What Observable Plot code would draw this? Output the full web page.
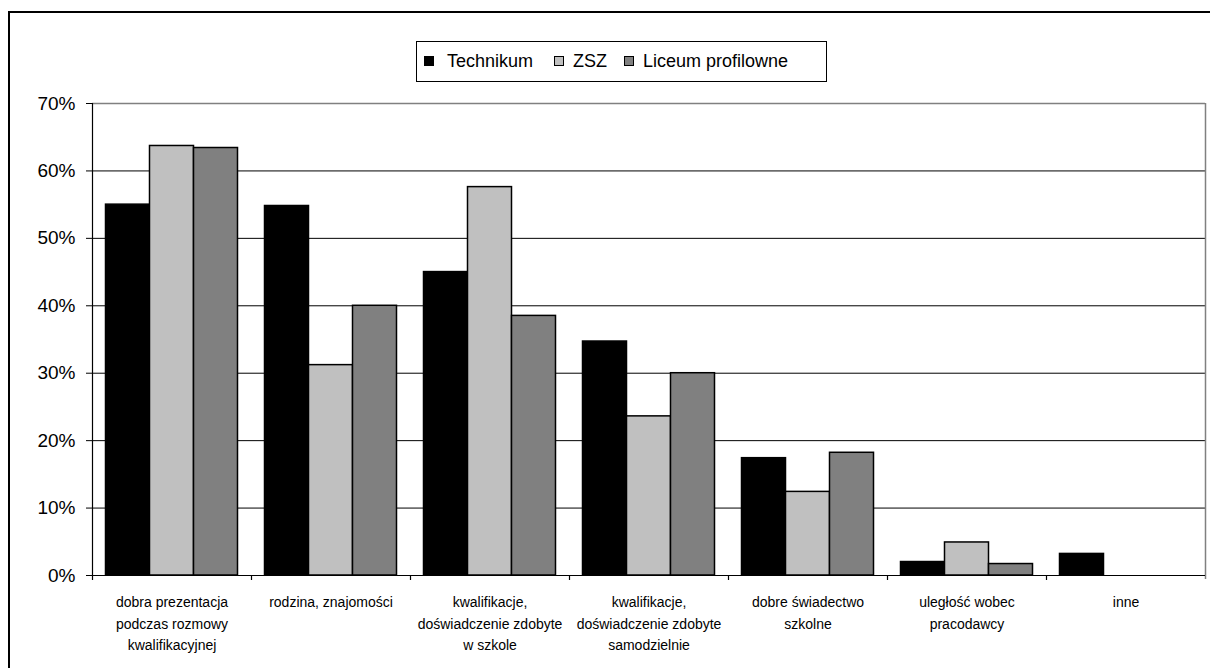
<!DOCTYPE html>
<html>
<head>
<meta charset="utf-8">
<script src="https://cdn.jsdelivr.net/npm/d3@7"></script>
<script src="https://cdn.jsdelivr.net/npm/@observablehq/plot@0.6"></script>
<style>
  body { margin: 0; background: #fff; font-family: "Liberation Sans", Arial, sans-serif; }
  #wrap { position: relative; width: 1210px; height: 668px; overflow: hidden; background: #fff; }
  #chart { position: absolute; left: 0; top: 0; }
  #border { position: absolute; left: 8px; top: 11px; width: 1230px; height: 720px; border: 2px solid #000; box-sizing: border-box; pointer-events: none; }
  #legend { position: absolute; left: 416px; top: 41px; width: 411px; height: 41px; border: 1px solid #000; box-sizing: border-box; font-size: 18px; color: #000; background: #fff; }
  .sw { position: absolute; top: 14px; width: 10px; height: 10px; border: 1px solid #000; box-sizing: border-box; }
  .lab { position: absolute; top: 9px; line-height: 20px; white-space: nowrap; }
</style>
</head>
<body>
<div id="wrap">
  <div id="chart"></div>
  <div id="legend"></div>
  <div id="border"></div>
</div>
<script>
// ---- data ----
const categories = [
  "dobra prezentacja podczas rozmowy kwalifikacyjnej",
  "rodzina, znajomości",
  "kwalifikacje, doświadczenie zdobyte w szkole",
  "kwalifikacje, doświadczenie zdobyte samodzielnie",
  "dobre świadectwo szkolne",
  "uległość wobec pracodawcy",
  "inne"
];
const categoryLabels = [
  "dobra prezentacja\npodczas rozmowy\nkwalifikacyjnej",
  "rodzina, znajomości",
  "kwalifikacje,\ndoświadczenie zdobyte\nw szkole",
  "kwalifikacje,\ndoświadczenie zdobyte\nsamodzielnie",
  "dobre świadectwo\nszkolne",
  "uległość wobec\npracodawcy",
  "inne"
];
const series = ["Technikum", "ZSZ", "Liceum profilowne"];
const technikum = [0.550, 0.548, 0.450, 0.347, 0.174, 0.020, 0.032];
const zsz       = [0.637, 0.312, 0.576, 0.236, 0.124, 0.049, 0];
const liceum    = [0.634, 0.400, 0.385, 0.300, 0.182, 0.017, 0];
const yTicks = [0, 0.1, 0.2, 0.3, 0.4, 0.5, 0.6, 0.7];
const colors = ["#000000", "#c0c0c0", "#808080"];

// ---- layout ----
const W = 1210, H = 668;
const mL = 92, mR = 5, mT = 103, mB = 93;
const plotH = H - mT - mB;
const step = (W - mL - mR) / categories.length;
const barW = 44;
const pad = (step - series.length * barW) / 2;

const valuesBySeries = [technikum, zsz, liceum];
const barMarks = valuesBySeries.map((vals, k) =>
  Plot.barY(
    categories.map((c, i) => ({category: c, value: vals[i]})).filter(d => d.value > 0),
    {
      x: "category",
      y: "value",
      fill: colors[k],
      stroke: "#000",
      strokeWidth: 1.5,
      insetLeft: pad + k * barW,
      insetRight: step - pad - (k + 1) * barW
    }
  )
);

const chart = Plot.plot({
  width: W,
  height: H,
  marginLeft: mL,
  marginRight: mR,
  marginTop: mT,
  marginBottom: mB,
  style: {background: "transparent", fontFamily: "'Liberation Sans', Arial, sans-serif", color: "#000"},
  x: {domain: categories, padding: 0, round: false, axis: null},
  y: {domain: [0, 0.7], axis: null},
  marks: [
    Plot.ruleY(yTicks.filter(t => t > 0 && t < 0.7), {stroke: "#000", strokeWidth: 1}),
    Plot.ruleY([0.7], {stroke: "#808080", strokeWidth: 1.5}),
    Plot.ruleX([categories[categories.length - 1]], {dx: step / 2, insetBottom: -4, stroke: "#808080", strokeWidth: 1.5}),
    ...barMarks,
    Plot.ruleY([0], {stroke: "#000", strokeWidth: 1.2}),
    Plot.ruleX([categories[0]], {dx: -step / 2, stroke: "#000", strokeWidth: 1.2}),
    Plot.ruleX(categories, {dx: -step / 2, insetTop: plotH - 5, dy: 5, stroke: "#000", strokeWidth: 1.2}),
    Plot.axisY({
      ticks: yTicks,
      tickFormat: d3.format(".0%"),
      tickSize: 6,
      tickPadding: 11,
      fontSize: 19,
      label: null,
      stroke: "#000",
      fill: "#000"
    }),
    Plot.text(categories, {
      x: d => d,
      text: (d, i) => categoryLabels[i],
      frameAnchor: "bottom",
      lineAnchor: "top",
      dy: 16,
      lineHeight: 1.55,
      fontSize: 14,
      fill: "#000"
    })
  ]
});
document.getElementById("chart").appendChild(chart);

// ---- legend ----
const legend = document.getElementById("legend");
const swatchLeft = [7, 137, 207];
const labelLeft = [30, 156, 226];
series.forEach((s, k) => {
  const sw = document.createElement("div");
  sw.className = "sw";
  sw.style.left = swatchLeft[k] + "px";
  sw.style.background = colors[k];
  const label = document.createElement("span");
  label.className = "lab";
  label.style.left = labelLeft[k] + "px";
  label.textContent = s;
  legend.appendChild(sw);
  legend.appendChild(label);
});
</script>
</body>
</html>
